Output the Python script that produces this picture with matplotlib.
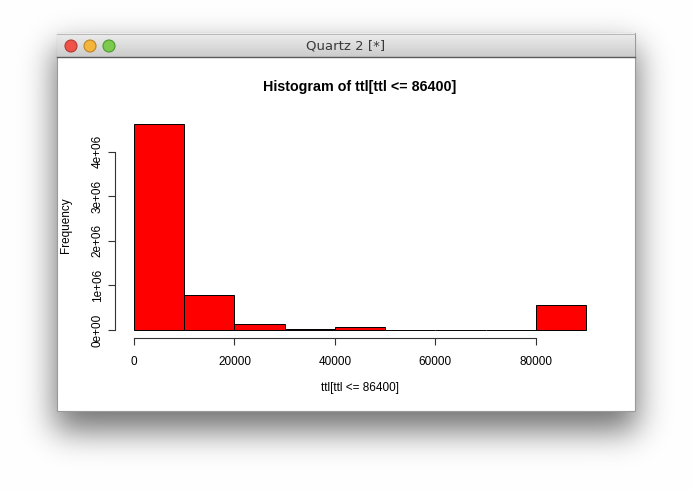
import math
import numpy as np
import matplotlib
matplotlib.use("Agg")
import matplotlib.pyplot as plt
from matplotlib.patches import Rectangle, Circle

# ---- data ----
bin_edges = [0, 10000, 20000, 30000, 40000, 50000, 60000, 70000, 80000, 90000]
counts = [4620000, 790000, 135000, 30000, 60000, 5000, 3000, 5000, 570000]
x_ticks = [0, 20000, 40000, 60000, 80000]
x_tick_labels = ["0", "20000", "40000", "60000", "80000"]
y_ticks = [0, 1e6, 2e6, 3e6, 4e6]
y_tick_labels = ["0e+00", "1e+06", "2e+06", "3e+06", "4e+06"]
title = "Histogram of ttl[ttl <= 86400]"
xlabel = "ttl[ttl <= 86400]"
ylabel = "Frequency"
window_title = "Quartz 2 [*]"

W, H = 692, 491
fig = plt.figure(figsize=(W / 100, H / 100), dpi=100)
fig.patch.set_facecolor("white")

# ---- window chrome background ----
bg = fig.add_axes([0, 0, 1, 1])
bg.set_xlim(0, W)
bg.set_ylim(H, 0)
bg.axis("off")

wx0, wx1, wy0, wy1 = 57, 635, 33, 411
erf = np.frompyfunc(math.erf, 1, 1)
xs = np.arange(W) + 0.5
ys = np.arange(H) + 0.5
s = 16.0
sx0, sx1, sy0, sy1 = wx0 - 2, wx1 + 2, wy0 + 14, wy1 + 20
fx = 0.5 * (erf((xs - sx0) / (s * 1.414)).astype(float) - erf((xs - sx1) / (s * 1.414)).astype(float))
fy = 0.5 * (erf((ys - sy0) / (s * 1.414)).astype(float) - erf((ys - sy1) / (s * 1.414)).astype(float))
shadow = np.outer(fy, fx) * 0.55
img = np.ones((H, W, 3)) * (1 - shadow[..., None])
bg.imshow(img, extent=(0, W, H, 0), interpolation="bilinear", zorder=0)

# window body
bg.add_patch(Rectangle((wx0, wy0), wx1 - wx0, wy1 - wy0, facecolor="white",
                       edgecolor="#9a9a9a", linewidth=0.8, zorder=1))
# title bar gradient
tb_h = 24
grad = np.linspace(0.93, 0.80, 50)[:, None] * np.ones((50, 2))
bg.imshow(np.dstack([grad, grad, grad]), extent=(wx0, wx1, wy0 + tb_h, wy0),
          aspect="auto", interpolation="bilinear", zorder=2)
bg.plot([wx0, wx1], [wy0 + tb_h, wy0 + tb_h], color="#5a5a5a", lw=1.0, zorder=3)
bg.plot([wx0, wx1], [wy0 + 0.5, wy0 + 0.5], color="#b0b0b0", lw=0.6, zorder=3)
for cx, fc, ec in [(71, "#f0524a", "#b23a33"), (90, "#f5b43a", "#b8862a"), (109, "#7ccb4e", "#4c9a2e")]:
    bg.add_patch(Circle((cx, 46), 6.0, facecolor=fc, edgecolor=ec, linewidth=0.8, zorder=4))
bg.text(346, 46, window_title, ha="center", va="center", fontsize=9.5,
        color="#3a3a3a", family="DejaVu Sans", zorder=5)

# ---- histogram axes ----
px_per_1e6 = 44.625
y_top_val = 4.8e6
ax_left = 134 / W
ax_width = (586 - 134) / W
ax_bottom = (H - 330) / H
ax_height = (y_top_val / 1e6 * px_per_1e6) / H
ax = fig.add_axes([ax_left, ax_bottom, ax_width, ax_height])
ax.patch.set_alpha(0)
ax.set_zorder(10)

lefts = bin_edges[:-1]
widths = np.diff(bin_edges)
bars = ax.bar(lefts, counts, width=widths, align="edge", color="#ff0000",
              edgecolor="black", linewidth=0.7)
for b in bars:
    b.set_clip_on(False)
ax.set_xlim(bin_edges[0], bin_edges[-1])
ax.set_ylim(0, y_top_val)

for sp in ["top", "right"]:
    ax.spines[sp].set_visible(False)
ax.spines["left"].set_position(("outward", 13.7))
ax.spines["bottom"].set_position(("outward", 5.8))
ax.spines["left"].set_bounds(0, 4e6)
ax.spines["bottom"].set_bounds(0, 80000)
for sp in ["left", "bottom"]:
    ax.spines[sp].set_linewidth(0.8)
    ax.spines[sp].set_color("#333333")

ax.set_xticks(x_ticks)
ax.set_xticklabels(x_tick_labels, fontsize=8.5, family="Liberation Sans")
ax.set_yticks(y_ticks)
ax.set_yticklabels(y_tick_labels, fontsize=8.5, family="Liberation Sans",
                   rotation=90, va="center")
ax.tick_params(axis="both", direction="out", length=5, width=0.8, color="#333333")
ax.tick_params(axis="x", pad=8)
ax.tick_params(axis="y", pad=3)

fig.text(360 / W, 1 - 87 / H, title, ha="center", va="center", fontsize=10.3,
         fontweight="bold", family="Liberation Sans")
fig.text(360 / W, 1 - 388 / H, xlabel, ha="center", va="center", fontsize=8.5,
         family="Liberation Sans")
fig.text(66 / W, 1 - 225 / H, ylabel, ha="center", va="center", fontsize=8.5,
         rotation=90, family="Liberation Sans")

fig.savefig("out.png", dpi=100)
